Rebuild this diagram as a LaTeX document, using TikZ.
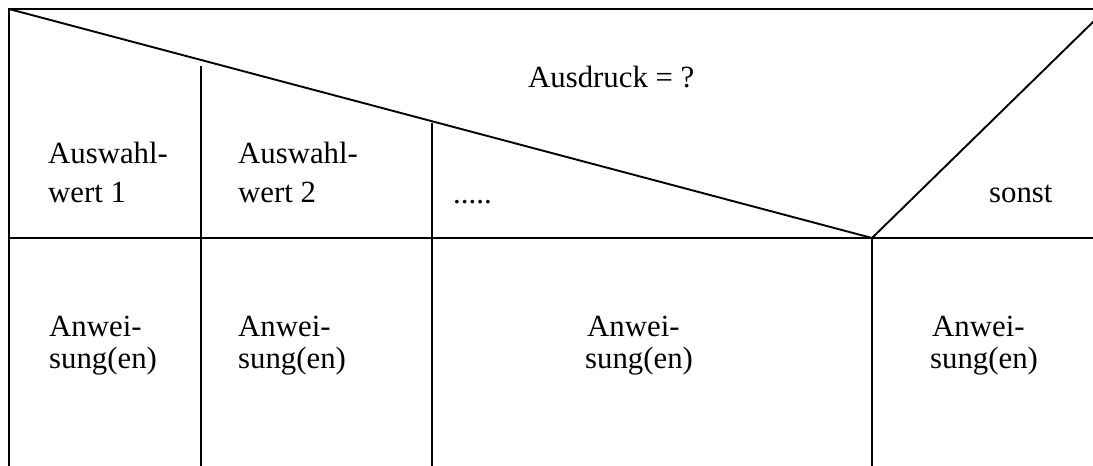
\documentclass[tikz,border=0pt]{standalone}
\usepackage{fontspec}
\setmainfont{Liberation Serif}
\begin{document}
\begin{tikzpicture}[x=1pt,y=-1pt,
  ln/.style={line width=1.9pt,line cap=rect},
  txt/.style={anchor=base west,inner sep=0pt,font=\fontsize{30.8}{38}\selectfont}]
\useasboundingbox (0,0) rectangle (1093,466);
% frame and lines
\coordinate (tl) at (9,9);
\coordinate (tr) at (1093,9);
\coordinate (bl) at (9,466);
\coordinate (apex) at (872,238);
\coordinate (ml) at (9,238);
\coordinate (mr) at (1093,238);
\coordinate (rt) at (1093,22);
\draw[ln] (bl) -- (tl) -- (tr);
\draw[ln] (tl) -- (apex) -- (rt);
\draw[ln] (ml) -- (mr);
\draw[ln] (201,67) -- (201,466);
\draw[ln] (432,124) -- (432,466);
\draw[ln] (apex) -- (872,466);
% texts
\node[txt] (cond) at (528,87) {Ausdruck = ?};
\node[txt] (a1) at (48,163) {Auswahl-};
\node[txt] (a1b) at (48,202) {wert 1};
\node[txt] (a2) at (238,163) {Auswahl-};
\node[txt] (a2b) at (238,202) {wert 2};
\node[txt] (dots) at (453,203) {.....};
\node[txt] (son) at (989,202) {sonst};
\node[txt] (s1) at (49,336) {Anwei-};
\node[txt] (s1b) at (49,368) {sung(en)};
\node[txt] (s2) at (238,336) {Anwei-};
\node[txt] (s2b) at (238,368) {sung(en)};
\node[txt] (s3) at (587,336) {Anwei-};
\node[txt] (s3b) at (585,368) {sung(en)};
\node[txt] (s4) at (932,336) {Anwei-};
\node[txt] (s4b) at (930,368) {sung(en)};
\end{tikzpicture}
\end{document}
